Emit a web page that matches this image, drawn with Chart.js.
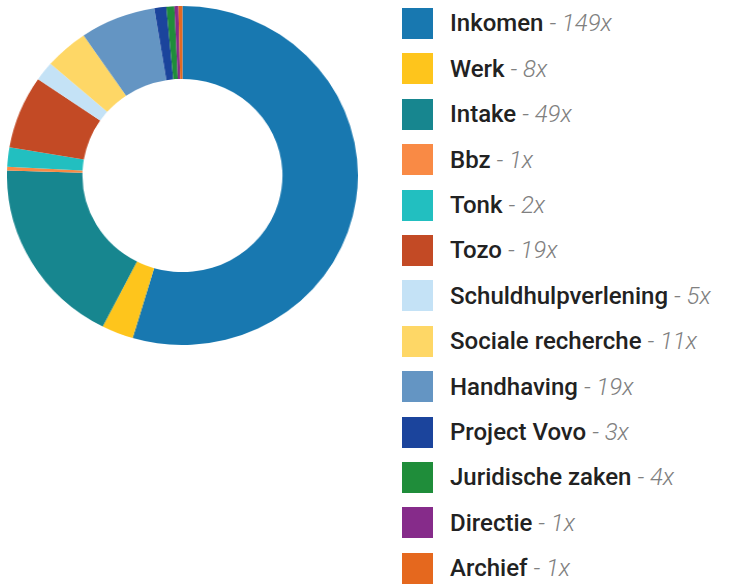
<!DOCTYPE html>
<html>
<head>
<meta charset="utf-8">
<script src="https://cdn.jsdelivr.net/npm/chart.js@4"></script>
<style>
  body { margin: 0; background: #fff; font-family: Roboto, "Noto Sans", sans-serif; }
  #wrap { position: relative; width: 736px; height: 585px; }
  /* the reference ring is a bit wider than it is tall */
  #donut { position: absolute; left: 7px; top: 6px; width: 339px; height: 339px;
           transform: scaleX(1.035); transform-origin: left top; }
  #legend { position: absolute; left: 402px; top: 0.8px; }
  .row { display: flex; align-items: center; height: 45.4px; }
  .row .box { width: 31px; height: 31px; margin-right: 17px; flex: none; }
  .row .lbl { font-size: 24px; font-weight: 500; color: #222; white-space: nowrap; }
  .row .cnt { font-style: italic; font-weight: 300; color: #808080; }
</style>
</head>
<body>
<div id="wrap">
  <div id="donut"><canvas id="chart"></canvas></div>
  <div id="legend"></div>
</div>
<script>
const labels = ["Inkomen", "Werk", "Intake", "Bbz", "Tonk", "Tozo", "Schuldhulpverlening",
  "Sociale recherche", "Handhaving", "Project Vovo", "Juridische zaken", "Directie", "Archief"];
// counts as printed in the legend
const counts = [149, 8, 49, 1, 2, 19, 5, 11, 19, 3, 4, 1, 1];
// slice sizes as measured on the ring (Tonk and Juridische zaken don't match their legend text)
const slices = [149, 8, 49, 1, 5, 19, 5, 11, 19, 3, 2, 1, 1];
const colors = ["#1878b0", "#fec51c", "#17868f", "#f98a45", "#22bfc0", "#c34a25", "#c4e2f6",
  "#fed766", "#6495c3", "#1b449c", "#1f8d3a", "#862b8a", "#e5681e"];

// legend in html so the label and count can have different styles
const legend = document.getElementById("legend");
labels.forEach((l, i) => {
  legend.innerHTML += `
    <div class="row">
      <div class="box" style="background:${colors[i]}"></div>
      <div class="lbl">${l} <span class="cnt">- ${counts[i]}x</span></div>
    </div>`;
});

new Chart(document.getElementById("chart"), {
  type: "doughnut",
  data: {
    labels: labels,
    datasets: [{
      data: slices,
      backgroundColor: colors,
      borderWidth: 0
    }]
  },
  options: {
    responsive: true,
    maintainAspectRatio: false,
    animation: false,
    cutout: "57%",
    layout: { padding: 0 },
    plugins: {
      legend: { display: false },
      tooltip: { enabled: false }
    }
  }
});
</script>
</body>
</html>
